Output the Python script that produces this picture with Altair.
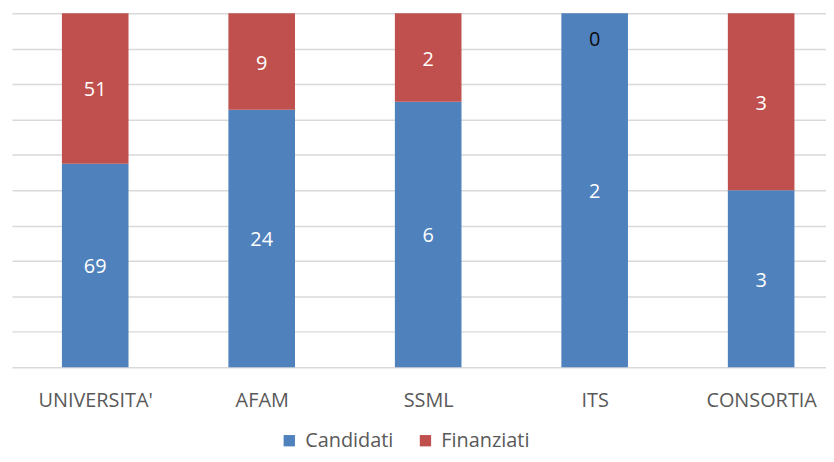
import json
import altair as alt
import pandas as pd

categories = ["UNIVERSITA'", "AFAM", "SSML", "ITS", "CONSORTIA"]
candidati = [69, 24, 6, 2, 3]
finanziati = [51, 9, 2, 0, 3]
series = ["Candidati", "Finanziati"]
colors = ["#4f81bd", "#c0504d"]

rows = []
for i, (c, a, b) in enumerate(zip(categories, candidati, finanziati)):
    rows.append({"idx": i, "cat": c, "serie": series[0], "value": a, "ord": 0})
    rows.append({"idx": i, "cat": c, "serie": series[1], "value": b, "ord": 1})
df = pd.DataFrame(rows)

FONT = "Open Sans"
n = len(categories)
W = 819

xscale = alt.Scale(domain=[-0.5, -0.5 + W / 167.5], nice=False, zero=False, padding=0)
xaxis = alt.Axis(values=list(range(n)),
                 labelExpr=json.dumps(categories) + "[datum.value]",
                 labelAngle=0, ticks=False, tickSize=0, domain=False,
                 labelFontSize=20, labelColor="#595959", labelFont=FONT,
                 labelPadding=24, grid=False, labelFlush=False, labelOverlap=False)
yscale = alt.Scale(domain=[0, 1])
yaxis = alt.Axis(values=[i / 10 for i in range(11)], labels=False,
                 ticks=False, domain=False, grid=True,
                 gridColor="#d9d9d9", gridWidth=1.5)

bars = alt.Chart(df).mark_bar(size=67).encode(
    x=alt.X("idx:Q", title=None, scale=xscale, axis=xaxis),
    y=alt.Y("value:Q", stack="normalize", title=None, scale=yscale, axis=yaxis),
    color=alt.Color("serie:N", title=None,
                    scale=alt.Scale(domain=series, range=colors),
                    legend=alt.Legend(orient="none", direction="horizontal",
                                      legendX=269, legendY=420, padding=0,
                                      symbolType="square", symbolSize=130,
                                      symbolStrokeWidth=0,
                                      labelFontSize=20, labelColor="#595959",
                                      labelFont=FONT, labelOffset=6,
                                      columnPadding=22)),
    order=alt.Order("ord:Q"),
)

base_text = alt.Chart(df).transform_stack(
    stack="value", groupby=["cat"], as_=["v0", "v1"], offset="normalize",
    sort=[alt.SortField("ord", order="ascending")],
).transform_calculate(mid="(datum.v0 + datum.v1) / 2")

tx = alt.X("idx:Q", title=None, scale=xscale, axis=xaxis)
ty = alt.Y("mid:Q", title=None, scale=yscale, axis=yaxis)

labels = base_text.transform_filter("datum.value > 0").mark_text(
    color="white", fontSize=20, font=FONT, baseline="middle", dy=2
).encode(x=tx, y=ty, text="value:Q")

zero_labels = base_text.transform_filter("datum.value == 0").mark_text(
    color="#0d0d0d", fontSize=20, font=FONT, baseline="middle", dy=27
).encode(x=tx, y=ty, text="value:Q")

chart = alt.layer(bars, labels, zero_labels).properties(
    width=W, height=356,
    padding={"left": 4, "top": 4, "right": 0, "bottom": 0},
).configure_view(stroke=None)

chart.save("out.html", embed_options={"renderer": "svg", "actions": False})
